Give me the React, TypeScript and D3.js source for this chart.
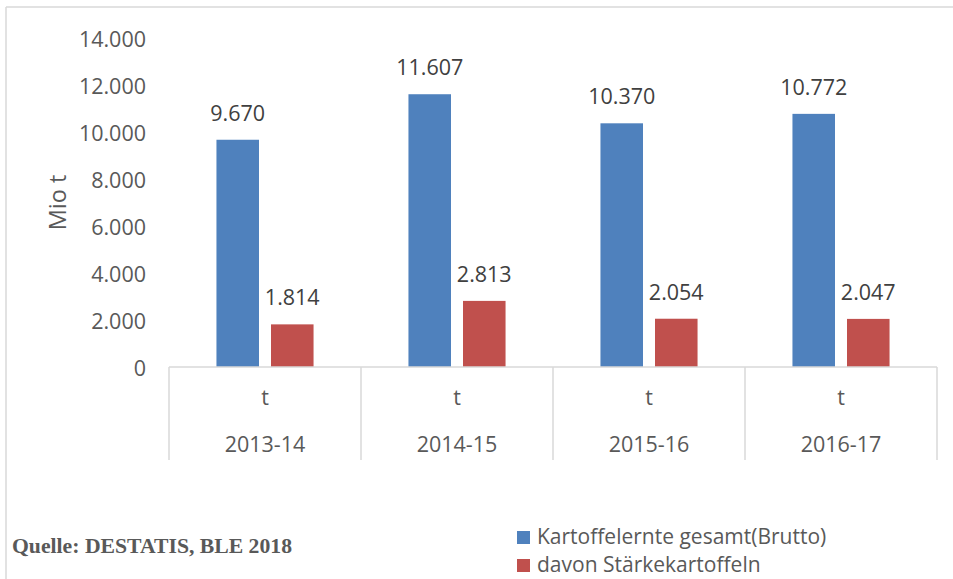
import React from "react";
import * as d3 from "d3";

const categories = ["2013-14", "2014-15", "2015-16", "2016-17"];
const subLabel = "t";
const seriesNames = ["Kartoffelernte gesamt(Brutto)", "davon Stärkekartoffeln"];
const totalValues = [9670, 11607, 10370, 10772];
const starchValues = [1814, 2813, 2054, 2047];
const yTicks = [0, 2000, 4000, 6000, 8000, 10000, 12000, 14000];
const colors = ["#4F81BD", "#C0504D"];
const source = "Quelle: DESTATIS, BLE 2018";
const yTitle = "Mio t";

const W = 953;
const H = 579;
const plotLeft = 169;
const plotRight = 937;
const yZero = 367;
const yTop = 38;
const textColor = "#595959";
const gridColor = "#d9d9d9";
const font = "'Open Sans', sans-serif";
const fs = 21.5;

const fmt = (v: number) => d3.format(",")(v).replace(/,/g, ".");

export default function App() {
  const x0 = d3.scaleBand<string>().domain(categories).range([plotLeft, plotRight]).paddingInner(0).paddingOuter(0);
  const x1 = d3
    .scaleBand<number>()
    .domain([0, 1])
    .range([0, x0.bandwidth()])
    .paddingInner(0.22)
    .paddingOuter(0.87);
  const y = d3.scaleLinear().domain([0, 14000]).range([yZero, yTop]);
  const series = [totalValues, starchValues];

  return (
    <svg
      width={W}
      height={H}
      style={{ position: "absolute", left: 0, top: 0, background: "#fff" }}
      fontFamily={font}
    >
      <rect x={0} y={0} width={W} height={H} fill="#fff" />
      {/* chart frame */}
      <line x1={6} x2={W + 2} y1={7} y2={7} stroke={gridColor} strokeWidth={1.5} />
      <line x1={6} x2={6} y1={7} y2={H + 2} stroke={gridColor} strokeWidth={1.5} />

      {/* y axis ticks */}
      {yTicks.map((t) => (
        <text
          key={t}
          x={146}
          y={y(t)}
          textAnchor="end"
          dominantBaseline="central"
          fontSize={fs}
          fill={textColor}
        >
          {fmt(t)}
        </text>
      ))}
      <text
        transform={`translate(57,${(yZero + yTop) / 2}) rotate(-90)`}
        textAnchor="middle"
        dominantBaseline="central"
        fontSize={23.5}
        fill={textColor}
      >
        {yTitle}
      </text>

      {/* bars */}
      {categories.map((c, i) =>
        series.map((vals, s) => {
          const bx = (x0(c) as number) + (x1(s) as number);
          const bw = x1.bandwidth();
          return (
            <g key={c + s}>
              <rect x={bx} y={y(vals[i])} width={bw} height={yZero - y(vals[i])} fill={colors[s]} />
              <text
                x={bx + bw / 2}
                y={y(vals[i]) - 19}
                textAnchor="middle"
                fontSize={fs}
                fill="#404040"
              >
                {fmt(vals[i])}
              </text>
            </g>
          );
        })
      )}

      {/* category axis */}
      <line x1={plotLeft} x2={plotRight} y1={yZero} y2={yZero} stroke={gridColor} strokeWidth={1.5} />
      {[...categories.map((c) => x0(c) as number), plotRight].map((xx, i) => (
        <line key={i} x1={xx} x2={xx} y1={yZero} y2={460} stroke={gridColor} strokeWidth={1.5} />
      ))}
      {categories.map((c) => {
        const cx = (x0(c) as number) + x0.bandwidth() / 2;
        return (
          <g key={c}>
            <text x={cx} y={405} textAnchor="middle" fontSize={fs} fill={textColor}>
              {subLabel}
            </text>
            <text x={cx} y={452} textAnchor="middle" fontSize={fs} fill={textColor}>
              {c}
            </text>
          </g>
        );
      })}

      {/* source */}
      <text
        x={12}
        y={553}
        fontFamily="'Liberation Serif', 'Times New Roman', serif"
        fontWeight="bold"
        fontSize={21.7}
        fill={textColor}
      >
        {source}
      </text>

      {/* legend */}
      {seriesNames.map((n, i) => (
        <g key={n} transform={`translate(517,${531 + i * 28})`}>
          <rect x={0} y={0} width={13} height={13} fill={colors[i]} />
          <text x={20} y={12.5} fontSize={21} fill={textColor}>
            {n}
          </text>
        </g>
      ))}
    </svg>
  );
}
